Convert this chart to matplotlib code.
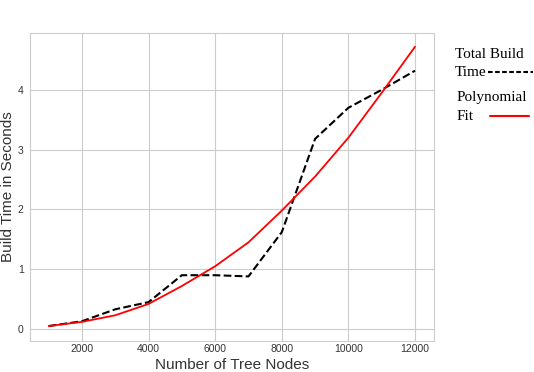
import matplotlib
matplotlib.use('Agg')
import matplotlib.pyplot as plt
from matplotlib.lines import Line2D
import seaborn as sns

sns.set_style('whitegrid')
plt.rcParams['font.family'] = ['Liberation Sans', 'DejaVu Sans']

## tree sizes and measured build times (seconds)
nodes = [1000, 2000, 3000, 4000, 5000, 6000, 7000, 8000, 9000, 10000, 11000, 12000]
build_time = [0.05, 0.13, 0.33, 0.45, 0.90, 0.90, 0.88, 1.62, 3.18, 3.70, 4.00, 4.32]
fit_time = [0.05, 0.12, 0.23, 0.42, 0.72, 1.05, 1.45, 1.98, 2.55, 3.20, 3.95, 4.72]

W, H = 534.0, 372.0
fig = plt.figure(figsize=(W / 100, H / 100), dpi=100)
ax = fig.add_axes([30 / W, 31 / H, 404 / W, 308 / H])

ax.plot(nodes, build_time, 'k--', lw=1.5)
ax.plot(nodes, fit_time, color='red', lw=1.3)

ax.set_xlim(440, 12570)
ax.set_ylim(-0.2, 4.95)
ax.set_xticks([2000, 4000, 6000, 8000, 10000, 12000])
ax.set_yticks([0, 1, 2, 3, 4])
ax.tick_params(labelsize=7.5, colors='#333333', pad=1)
ax.tick_params(axis='x', pad=-1)
ax.set_xlabel('Number of Tree Nodes', fontsize=11, color='#333333', labelpad=2.5)
ax.set_ylabel('Build Time in Seconds', fontsize=11, color='#333333', labelpad=2)

## legend drawn by hand: text first, sample line after the last text line
serif = {'family': 'Liberation Serif', 'size': 11, 'color': 'black'}
fig.text(455 / W, 1 - 55 / H, 'Total Build', va='center', ha='left', **serif)
fig.text(455 / W, 1 - 72 / H, 'Time', va='center', ha='left', **serif)
fig.add_artist(Line2D([488 / W, 533 / W], [1 - 72 / H, 1 - 72 / H],
                      color='black', lw=1.5, dashes=(2.2, 1.2)))
fig.text(457 / W, 1 - 97 / H, 'Polynomial', va='center', ha='left', **serif)
fig.text(457 / W, 1 - 116 / H, 'Fit', va='center', ha='left', **serif)
fig.add_artist(Line2D([490 / W, 529 / W], [1 - 116 / H, 1 - 116 / H],
                      color='red', lw=1.5))

fig.savefig('out.png', dpi=100)
